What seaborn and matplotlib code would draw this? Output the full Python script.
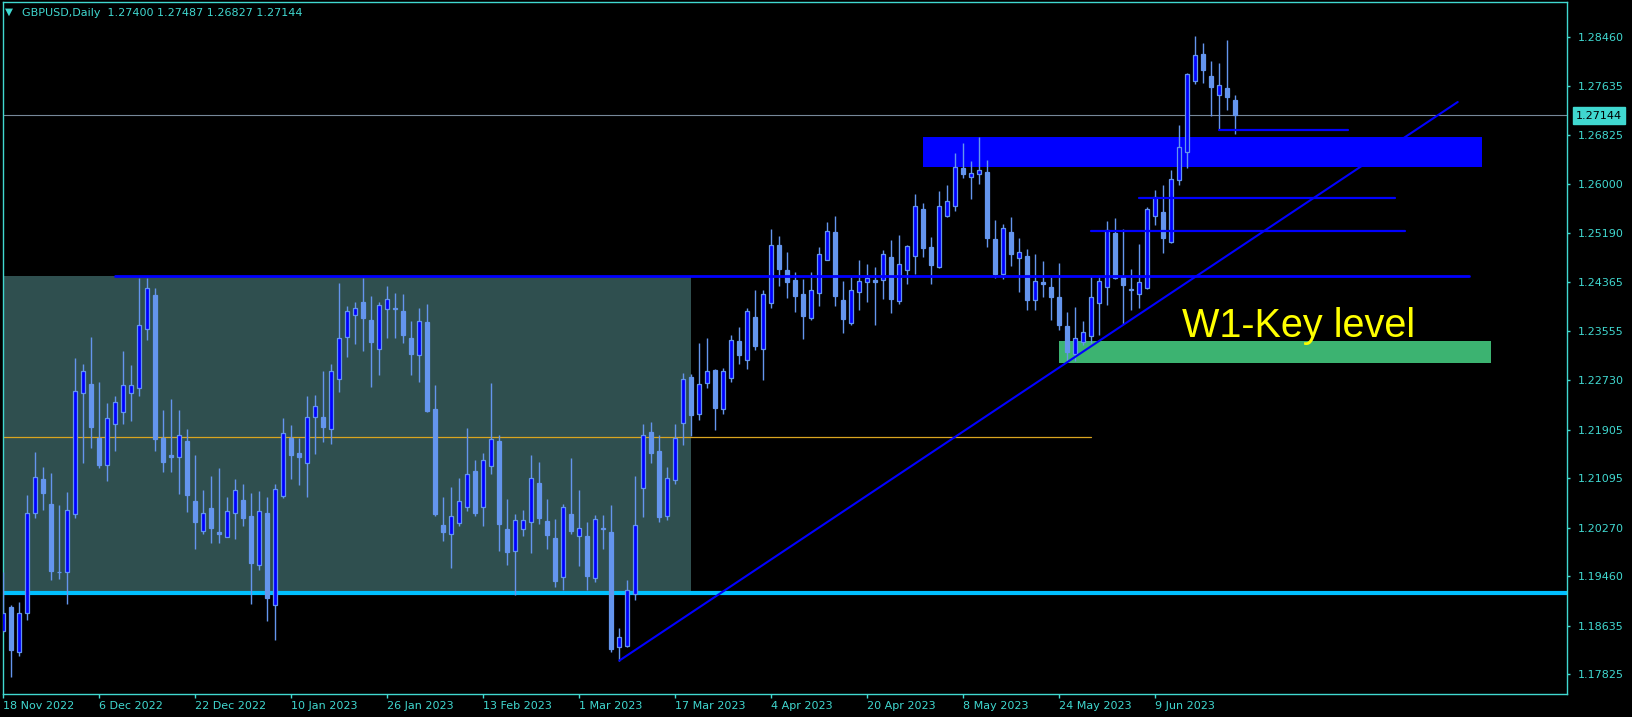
import numpy as np
import pandas as pd
import matplotlib
matplotlib.use("Agg")
import matplotlib.pyplot as plt
import seaborn as sns

# GBPUSD daily candles, 18 Nov 2022 onward
opens = [1.1855, 1.1894, 1.1820, 1.1884, 1.2051, 1.2108, 1.2067, 1.1953, 1.1953, 1.2049,
         1.2252, 1.2266, 1.2176, 1.2132, 1.2199, 1.2220, 1.2252, 1.2259, 1.2358, 1.2415,
         1.2176, 1.2148, 1.2145, 1.2171, 1.2071, 1.2022, 1.2060, 1.2020, 1.2012, 1.2052,
         1.2073, 1.2046, 1.1965, 1.2052, 1.1897, 1.2079, 1.2177, 1.2151, 1.2134, 1.2212,
         1.2211, 1.2192, 1.2275, 1.2344, 1.2382, 1.2403, 1.2373, 1.2324, 1.2392, 1.2393,
         1.2388, 1.2343, 1.2315, 1.2370, 1.2224, 1.2031, 1.2017, 1.2035, 1.2062, 1.2121,
         1.2062, 1.2129, 1.2171, 1.2024, 1.1987, 1.2025, 1.2037, 1.2101, 1.2038, 1.2010,
         1.1945, 1.2050, 1.2013, 1.2013, 1.1942, 1.2026, 1.2020, 1.1827, 1.1830, 1.1916,
         1.2093, 1.2186, 1.2155, 1.2047, 1.2107, 1.2201, 1.2278, 1.2217, 1.2268, 1.2289,
         1.2224, 1.2277, 1.2338, 1.2307, 1.2378, 1.2325, 1.2401, 1.2499, 1.2456, 1.2440,
         1.2416, 1.2377, 1.2418, 1.2474, 1.2520, 1.2407, 1.2368, 1.2420, 1.2437, 1.2440,
         1.2440, 1.2478, 1.2405, 1.2457, 1.2480, 1.2559, 1.2495, 1.2462, 1.2547, 1.2564,
         1.2627, 1.2611, 1.2616, 1.2620, 1.2508, 1.2450, 1.2520, 1.2477, 1.2480, 1.2407,
         1.2436, 1.2429, 1.2412, 1.2363, 1.2317, 1.2336, 1.2347, 1.2402, 1.2429, 1.2519,
         1.2445, 1.2423, 1.2416, 1.2427, 1.2546, 1.2553, 1.2504, 1.2606, 1.2654, 1.2772,
         1.2817, 1.2780, 1.2748, 1.2760, 1.27400]
highs = [1.1952, 1.1898, 1.1903, 1.2081, 1.2153, 1.2128, 1.2118, 1.2065, 1.2086, 1.2310,
         1.2300, 1.2345, 1.2270, 1.2235, 1.2246, 1.2321, 1.2298, 1.2444, 1.2444, 1.2427,
         1.2223, 1.2241, 1.2223, 1.2191, 1.2148, 1.2090, 1.2113, 1.2126, 1.2078, 1.2108,
         1.2100, 1.2085, 1.2088, 1.2078, 1.2100, 1.2210, 1.2198, 1.2177, 1.2246, 1.2248,
         1.2288, 1.2300, 1.2435, 1.2397, 1.2403, 1.2443, 1.2413, 1.2403, 1.2430, 1.2418,
         1.2417, 1.2371, 1.2393, 1.2400, 1.2265, 1.2078, 1.2095, 1.2110, 1.2193, 1.2140,
         1.2151, 1.2268, 1.2181, 1.2075, 1.2050, 1.2056, 1.2148, 1.2136, 1.2075, 1.2041,
         1.2066, 1.2143, 1.2090, 1.2036, 1.2048, 1.2048, 1.2065, 1.1859, 1.1940, 1.2113,
         1.2200, 1.2203, 1.2181, 1.2128, 1.2200, 1.2285, 1.2283, 1.2335, 1.2343, 1.2291,
         1.2293, 1.2348, 1.2361, 1.2393, 1.2423, 1.2423, 1.2525, 1.2513, 1.2487, 1.2454,
         1.2442, 1.2454, 1.2495, 1.2537, 1.2547, 1.2438, 1.2445, 1.2473, 1.2467, 1.2462,
         1.2490, 1.2507, 1.2515, 1.2498, 1.2583, 1.2568, 1.2512, 1.2588, 1.2598, 1.2652,
         1.2668, 1.2638, 1.2678, 1.2640, 1.2540, 1.2533, 1.2545, 1.2510, 1.2492, 1.2483,
         1.2472, 1.2445, 1.2468, 1.2386, 1.2395, 1.2371, 1.2447, 1.2445, 1.2538, 1.2543,
         1.2525, 1.2458, 1.2500, 1.2561, 1.2590, 1.2598, 1.2623, 1.2698, 1.2786, 1.2847,
         1.2835, 1.2805, 1.2802, 1.2840, 1.27487]
lows = [1.1853, 1.1778, 1.1813, 1.1872, 1.2043, 1.2056, 1.1939, 1.1941, 1.1899, 1.2043,
        1.2134, 1.2160, 1.2127, 1.2105, 1.2154, 1.2200, 1.2205, 1.2247, 1.2340, 1.2155,
        1.2119, 1.2119, 1.2083, 1.2053, 1.1992, 1.2017, 1.2002, 1.2002, 1.2011, 1.2008,
        1.2030, 1.1900, 1.1956, 1.1871, 1.1839, 1.2077, 1.2108, 1.2098, 1.2078, 1.2149,
        1.2170, 1.2166, 1.2253, 1.2311, 1.2333, 1.2321, 1.2261, 1.2281, 1.2343, 1.2343,
        1.2335, 1.2281, 1.2270, 1.2220, 1.2047, 1.2005, 1.1960, 1.2030, 1.2055, 1.2047,
        1.2030, 1.2116, 1.1988, 1.1965, 1.1914, 1.2013, 1.1985, 1.2033, 1.1992, 1.1927,
        1.1922, 1.2017, 1.1963, 1.1923, 1.1936, 1.1991, 1.1820, 1.1804, 1.1828, 1.1906,
        1.2045, 1.2134, 1.2037, 1.2040, 1.2100, 1.2165, 1.2179, 1.2206, 1.2260, 1.2189,
        1.2216, 1.2269, 1.2300, 1.2291, 1.2323, 1.2273, 1.2393, 1.2430, 1.2410, 1.2387,
        1.2341, 1.2373, 1.2397, 1.2473, 1.2397, 1.2352, 1.2365, 1.2390, 1.2403, 1.2365,
        1.2408, 1.2385, 1.2400, 1.2433, 1.2450, 1.2478, 1.2433, 1.2460, 1.2545, 1.2555,
        1.2610, 1.2575, 1.2600, 1.2495, 1.2443, 1.2442, 1.2463, 1.2420, 1.2390, 1.2390,
        1.2411, 1.2373, 1.2356, 1.2304, 1.2304, 1.2331, 1.2334, 1.2348, 1.2398, 1.2442,
        1.2367, 1.2390, 1.2394, 1.2425, 1.2532, 1.2485, 1.2502, 1.2598, 1.2627, 1.2766,
        1.2768, 1.2713, 1.2690, 1.2723, 1.26827]
closes = [1.1884, 1.1822, 1.1884, 1.2052, 1.2112, 1.2085, 1.1955, 1.1952, 1.2056, 1.2254,
          1.2288, 1.2194, 1.2131, 1.2209, 1.2236, 1.2264, 1.2264, 1.2364, 1.2426, 1.2175,
          1.2137, 1.2144, 1.2182, 1.2082, 1.2037, 1.2051, 1.2027, 1.2016, 1.2054, 1.2089,
          1.2043, 1.1967, 1.2054, 1.1910, 1.2092, 1.2184, 1.2148, 1.2145, 1.2212, 1.2229,
          1.2195, 1.2288, 1.2343, 1.2389, 1.2394, 1.2376, 1.2336, 1.2399, 1.2409, 1.2392,
          1.2348, 1.2316, 1.2371, 1.2221, 1.2050, 1.2020, 1.2047, 1.2071, 1.2117, 1.2051,
          1.2139, 1.2174, 1.2033, 1.1986, 1.2039, 1.2039, 1.2109, 1.2043, 1.2015, 1.1938,
          1.2062, 1.2021, 1.2026, 1.1946, 1.2042, 1.2025, 1.1824, 1.1844, 1.1922, 1.2031,
          1.2182, 1.2152, 1.2045, 1.2110, 1.2176, 1.2274, 1.2215, 1.2266, 1.2288, 1.2226,
          1.2288, 1.2339, 1.2314, 1.2388, 1.2329, 1.2416, 1.2499, 1.2459, 1.2437, 1.2414,
          1.2380, 1.2424, 1.2483, 1.2521, 1.2414, 1.2375, 1.2423, 1.2438, 1.2443, 1.2437,
          1.2484, 1.2408, 1.2466, 1.2496, 1.2563, 1.2494, 1.2465, 1.2564, 1.2571, 1.2629,
          1.2617, 1.2619, 1.2624, 1.2510, 1.2450, 1.2526, 1.2483, 1.2486, 1.2407, 1.2439,
          1.2434, 1.2412, 1.2364, 1.2320, 1.2343, 1.2353, 1.2412, 1.2439, 1.2524, 1.2444,
          1.2432, 1.2425, 1.2436, 1.2559, 1.2579, 1.2510, 1.2609, 1.2662, 1.2783, 1.2815,
          1.2790, 1.2762, 1.2765, 1.2745, 1.27144]

date_labels = ["18 Nov 2022", "6 Dec 2022", "22 Dec 2022", "10 Jan 2023", "26 Jan 2023",
               "13 Feb 2023", "1 Mar 2023", "17 Mar 2023", "4 Apr 2023", "20 Apr 2023",
               "8 May 2023", "24 May 2023", "9 Jun 2023"]
label_step = 12
price_ticks = [1.28460, 1.27635, 1.26825, 1.26000, 1.25190, 1.24365, 1.23555,
               1.22730, 1.21905, 1.21095, 1.20270, 1.19460, 1.18635, 1.17825]

# drawn objects (bar index, price)
range_box = [85.96, 1.19217, 1.24465]          # right edge, bottom, top
resistance = [13.9, 183.2, 1.2447]
supply_zone = [115.0, 184.8, 1.26283, 1.26784]
key_zone = [131.97, 186.0, 1.23006, 1.23381]
short_levels = [(151.9, 168.05, 1.26900), (141.9, 174.0, 1.25761), (135.9, 175.2, 1.25211)]
trend_pts = [(77.0, 1.1805), (181.8, 1.27368)]
mid_level = [135.9, 1.21774]
floor_level = 1.19172
last_price = 1.27144

df = pd.DataFrame({"o": opens, "h": highs, "l": lows, "c": closes})
df["x"] = np.arange(len(df))
df["bull"] = df["c"] >= df["o"]

sns.set_theme(style="dark", rc={"axes.facecolor": "black", "figure.facecolor": "black"})
plt.rcParams["font.family"] = ["DejaVu Sans"]

TXT = "#40D8D0"
WICK = "#6495ED"

fig = plt.figure(figsize=(16.33, 7.17), dpi=100)
ax = fig.add_axes([2.6 / 1633, 23 / 717, (1567 - 2.6) / 1633, 692 / 717])
ax.set_facecolor("black")
ax.set_xlim(-0.09, 195.46)
ax.set_ylim(1.17493, 1.29036)

# background objects
ax.fill_between([-1, range_box[0]], range_box[1], range_box[2], color="#2F4F4F", lw=0, zorder=1)
ax.fill_between(supply_zone[:2], supply_zone[2], supply_zone[3], color="#0000FF", lw=0, zorder=1)
ax.fill_between(key_zone[:2], key_zone[2], key_zone[3], color="#3CB371", lw=0, zorder=1)

ax.axhline(last_price, color="#778899", lw=0.8, zorder=2)
ax.plot([-1, mid_level[0]], [mid_level[1]] * 2, color="#DAA520", lw=0.9, zorder=2)
ax.axhline(floor_level, color="#00BFFF", lw=3, zorder=2)

# candles
ax.vlines(df["x"], df["l"], df["h"], color=WICK, lw=1, zorder=3)
body_lo = np.minimum(df["o"], df["c"])
body_h = np.maximum(np.abs(df["c"] - df["o"]), 0.00002)
ax.bar(df["x"], body_h, bottom=body_lo, width=0.5,
       color=np.where(df["bull"], "#0000FF", WICK), edgecolor=WICK, linewidth=0.9, zorder=4)

# lines on top
ax.plot(resistance[:2], [resistance[2]] * 2, color="#0000FF", lw=2, zorder=5)
for x0, x1, p in short_levels:
    ax.plot([x0, x1], [p, p], color="#0000FF", lw=1.6, zorder=5)
ax.plot([trend_pts[0][0], trend_pts[1][0]], [trend_pts[0][1], trend_pts[1][1]],
        color="#0000FF", lw=1.5, zorder=5)

ax.text(147.3, 1.23456, "W1-Key level", color="#FFFF00", fontsize=28.5,
        family=["Liberation Sans", "DejaVu Sans"], va="baseline", ha="left", zorder=6)

# axes styling
for s in ax.spines.values():
    s.set_color(TXT)
    s.set_linewidth(1)
ax.grid(False)
ax.yaxis.tick_right()
ax.set_yticks(price_ticks, [f"{p:.5f}" for p in price_ticks])
ax.set_xticks(np.arange(len(date_labels)) * label_step, date_labels)
ax.tick_params(axis="y", colors=TXT, labelcolor=TXT, length=2.5, width=1, pad=5,
               labelsize=8, direction="out", right=True, left=False)
ax.tick_params(axis="x", colors=TXT, labelcolor=TXT, length=3, width=1, pad=2,
               labelsize=8, direction="out", bottom=True)
for lab in ax.get_xticklabels():
    lab.set_ha("left")

fig.text(1576 / 1633, 1 - 115.6 / 717, f"{last_price:.5f}", color="black", fontsize=8,
         va="center", ha="left",
         bbox=dict(boxstyle="square,pad=0.3", facecolor=TXT, edgecolor=TXT))

fig.text(5 / 1633, 1 - 12 / 717, "\u25BC", color=TXT, fontsize=7.5, va="center", ha="left")
fig.text(21.7 / 1633, 1 - 12.5 / 717, "GBPUSD,Daily  1.27400 1.27487 1.26827 1.27144",
         color=TXT, fontsize=8, va="center", ha="left")

fig.savefig("out.png", dpi=100, facecolor="black")
